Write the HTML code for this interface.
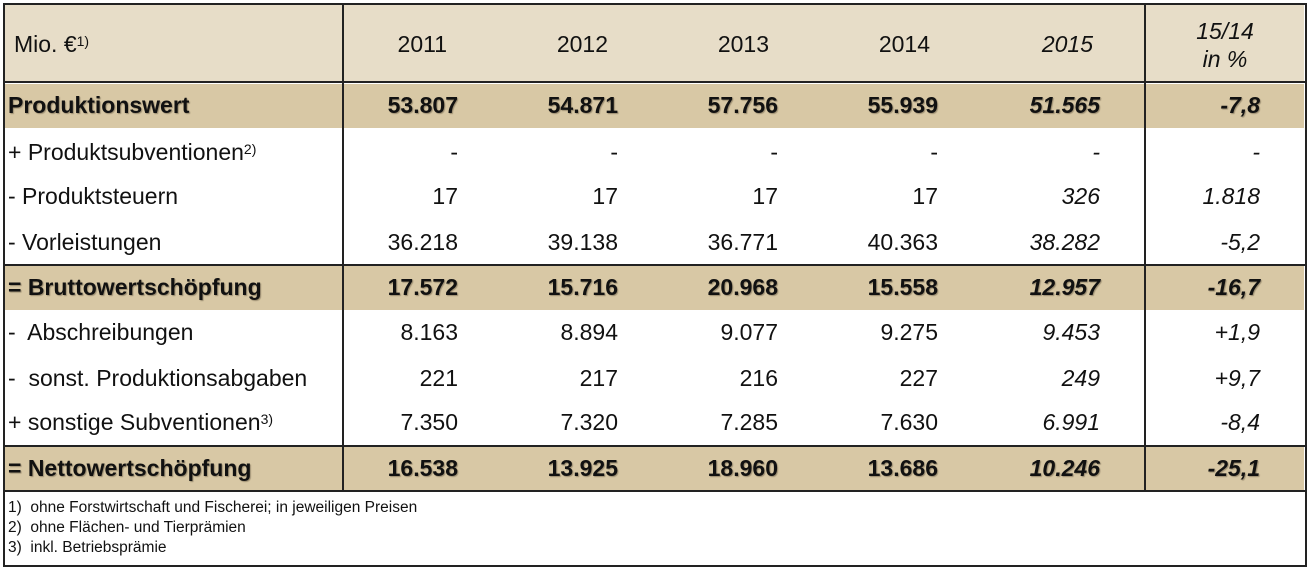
<!DOCTYPE html><html><head><meta charset="utf-8"><style>
body{margin:0;width:1310px;height:569px;background:#fff;position:relative;font-family:"Liberation Sans",Arial,sans-serif;color:#111;overflow:hidden}
.a{position:absolute}
.bg1{background:#e7ddc8}.bg2{background:#d8c8a5}
.t{position:absolute;font-size:23px;line-height:26px;white-space:nowrap}
.r{text-align:right;width:150px}
.b{font-weight:bold;text-shadow:1px 1px 1px #9a8c70}
.i{font-style:italic}
sup{font-size:14px;vertical-align:top;position:relative;top:-3px}
.hl{position:absolute;left:3px;width:1302px;height:2px;background:#222}
.vl{position:absolute;top:3px;width:2px;height:488px;background:#222}
.f{position:absolute;left:8px;font-size:15.5px;line-height:16px}
</style></head><body>
<div class="a bg1" style="left:4px;top:4px;width:1300px;height:78px"></div>
<div class="a bg2" style="left:4px;top:84px;width:1300px;height:44px"></div>
<div class="a bg2" style="left:4px;top:266px;width:1300px;height:44px"></div>
<div class="a bg2" style="left:4px;top:447px;width:1300px;height:43px"></div>
<div class="a" style="left:3px;top:3px;width:1300px;height:560px;border:2px solid #222"></div>
<div class="hl" style="top:81px"></div>
<div class="hl" style="top:264px"></div>
<div class="hl" style="top:445px"></div>
<div class="hl" style="top:490px"></div>
<div class="vl" style="left:342px"></div>
<div class="vl" style="left:1144px"></div>

<div class="t" style="left:14px;top:31px">Mio. €<sup>1)</sup></div>
<div class="t r" style="left:297px;top:31px">2011</div>
<div class="t r" style="left:458px;top:31px">2012</div>
<div class="t r" style="left:619px;top:31px">2013</div>
<div class="t r" style="left:780px;top:31px">2014</div>
<div class="t r i" style="left:943px;top:31px">2015</div>
<div class="t i" style="left:1145px;top:17px;width:160px;text-align:center;line-height:28px">15/14<br>in %</div>

<div id="rows"></div>
<script>
var rows=[
["Produktionswert",["53.807","54.871","57.756","55.939","51.565","-7,8"],92,1],
["+ Produktsubventionen<sup>2)</sup>",["-","-","-","-","-","-"],139,0],
["- Produktsteuern",["17","17","17","17","326","1.818"],183,0],
["- Vorleistungen",["36.218","39.138","36.771","40.363","38.282","-5,2"],229,0],
["= Bruttowertschöpfung",["17.572","15.716","20.968","15.558","12.957","-16,7"],274,1],
["-&nbsp; Abschreibungen",["8.163","8.894","9.077","9.275","9.453","+1,9"],319,0],
["-&nbsp; sonst. Produktionsabgaben",["221","217","216","227","249","+9,7"],365,0],
["+ sonstige Subventionen<sup>3)</sup>",["7.350","7.320","7.285","7.630","6.991","-8,4"],409,0],
["= Nettowertschöpfung",["16.538","13.925","18.960","13.686","10.246","-25,1"],455,1]];
var rx=[458,618,778,938,1100,1260],h="";
rows.forEach(function(r){var c=r[3]?" b":"";
h+='<div class="t'+c+'" style="left:8px;top:'+r[2]+'px">'+r[0]+'</div>';
r[1].forEach(function(v,k){h+='<div class="t r'+c+(k>=4?' i':'')+'" style="left:'+(rx[k]-150)+'px;top:'+r[2]+'px">'+v+'</div>';});});
document.getElementById("rows").innerHTML=h;
</script>
<div class="f" style="top:500px">1)&nbsp; ohne Forstwirtschaft und Fischerei; in jeweiligen Preisen</div>
<div class="f" style="top:520px">2)&nbsp; ohne Flächen- und Tierprämien</div>
<div class="f" style="top:540px">3)&nbsp; inkl. Betriebsprämie</div>
</body></html>
